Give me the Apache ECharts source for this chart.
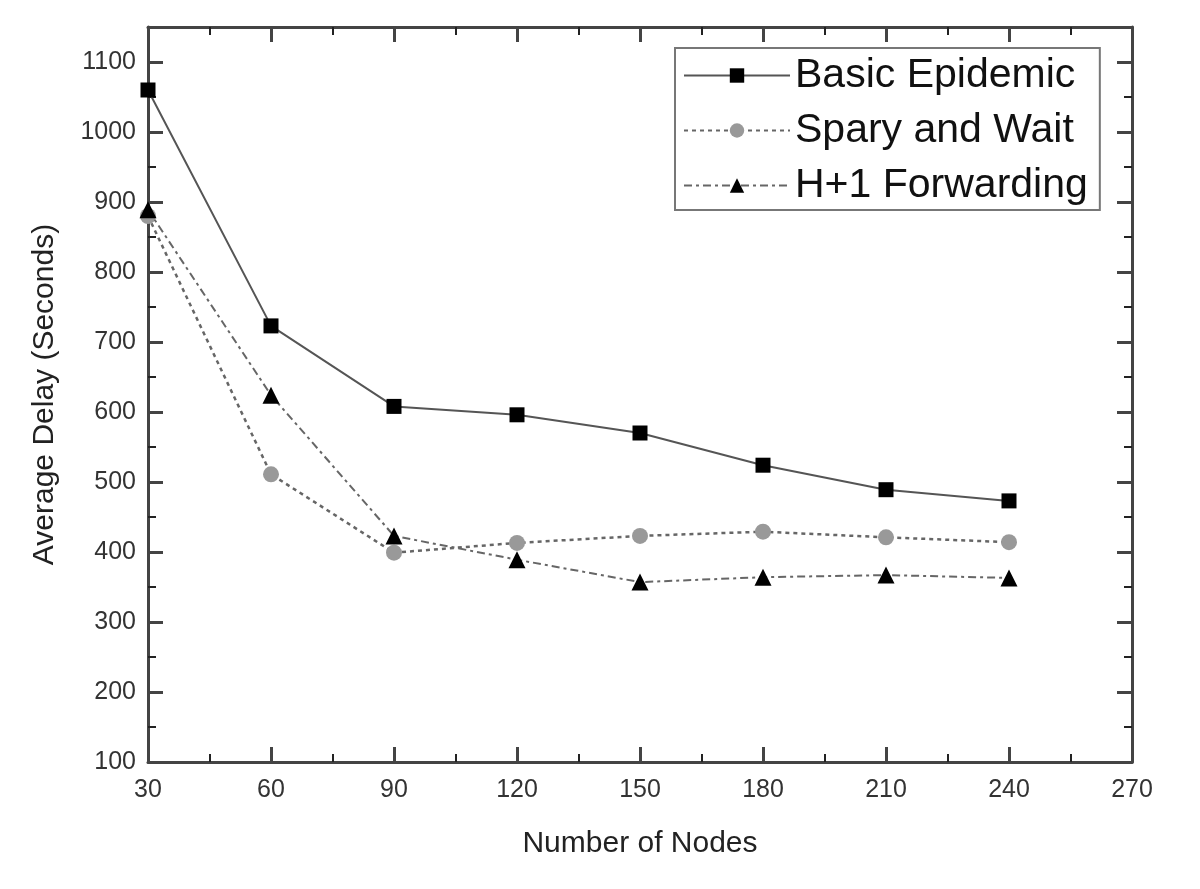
<!DOCTYPE html>
<html>
<head>
<meta charset="utf-8">
<script src="https://cdn.jsdelivr.net/npm/echarts@6/dist/echarts.min.js"></script>
<style>
  html, body { margin: 0; padding: 0; background: #fff; }
  #chart { width: 1200px; height: 889px; }
</style>
</head>
<body>
<div id="chart"></div>
<script>
// data
var nodes = [30, 60, 90, 120, 150, 180, 210, 240];
var basicEpidemic = [1060, 723, 608, 596, 570, 524, 489, 473];
var sprayWait = [880, 511, 399, 413, 423, 429, 421, 414];
var h1Forwarding = [889, 624, 423, 389, 357, 364, 367, 363];

function pairs(ys) {
  return nodes.map(function (x, i) { return [x, ys[i]]; });
}

var axisColor = '#444';
var labelStyle = { fontFamily: 'Liberation Sans, Arial', fontSize: 25, color: '#333' };

var chart = echarts.init(document.getElementById('chart'));

var option = {
  backgroundColor: '#fff',
  animation: false,
  grid: { left: 148, right: 68, top: 27, bottom: 127 },
  legend: {
    left: 675, top: 48,
    orient: 'vertical',
    itemWidth: 106, itemHeight: 18, itemGap: 14,
    padding: [7, 12, 4, 8],
    borderColor: '#777', borderWidth: 2,
    textStyle: { fontFamily: 'Liberation Sans, Arial', fontSize: 41, color: '#111' },
    data: ['Basic Epidemic', 'Spary and Wait', 'H+1 Forwarding']
  },
  xAxis: [
    {
      type: 'value', min: 30, max: 270, interval: 30,
      name: 'Number of Nodes', nameLocation: 'middle', nameGap: 67,
      nameTextStyle: { fontFamily: 'Liberation Sans, Arial', fontSize: 30, color: '#222' },
      axisLine: { lineStyle: { color: axisColor, width: 3 } },
      axisTick: { inside: true, length: 15, lineStyle: { color: axisColor, width: 3 } },
      minorTick: { show: true, splitNumber: 2, length: 8, lineStyle: { color: '#222', width: 2 } },
      axisLabel: Object.assign({ margin: 16 }, labelStyle),
      splitLine: { show: false }
    },
    {
      type: 'value', min: 30, max: 270, interval: 30, position: 'top',
      axisLine: { lineStyle: { color: axisColor, width: 3 } },
      axisTick: { inside: true, length: 15, lineStyle: { color: axisColor, width: 3 } },
      minorTick: { show: true, splitNumber: 2, length: 8, lineStyle: { color: '#222', width: 2 } },
      axisLabel: { show: false },
      splitLine: { show: false }
    }
  ],
  yAxis: [
    {
      type: 'value', min: 100, max: 1150, interval: 100,
      name: 'Average Delay (Seconds)', nameLocation: 'middle', nameGap: 88,
      nameTextStyle: { fontFamily: 'Liberation Sans, Arial', fontSize: 30, color: '#222' },
      axisLine: { lineStyle: { color: axisColor, width: 3 } },
      axisTick: { inside: true, length: 15, lineStyle: { color: axisColor, width: 3 } },
      minorTick: { show: true, splitNumber: 2, length: 8, lineStyle: { color: '#222', width: 2 } },
      axisLabel: Object.assign({
        margin: 12,
        formatter: function (v) { return v > 1100 ? '' : v; }
      }, labelStyle),
      splitLine: { show: false }
    },
    {
      type: 'value', min: 100, max: 1150, interval: 100, position: 'right',
      axisLine: { show: true, lineStyle: { color: axisColor, width: 3 } },
      axisTick: { show: true, inside: true, length: 15, lineStyle: { color: axisColor, width: 3 } },
      minorTick: { show: true, splitNumber: 2, length: 8, lineStyle: { color: '#222', width: 2 } },
      axisLabel: { show: false },
      splitLine: { show: false }
    }
  ],
  series: [
    {
      name: 'Basic Epidemic', type: 'line', data: pairs(basicEpidemic),
      symbol: 'rect', symbolSize: 15,
      itemStyle: { color: '#000' },
      lineStyle: { color: '#555', width: 2, type: 'solid' },
      z: 5
    },
    {
      name: 'Spary and Wait', type: 'line', data: pairs(sprayWait),
      symbol: 'circle', symbolSize: 16,
      itemStyle: { color: '#999' },
      lineStyle: { color: '#666', width: 2.5, type: [4, 4] },
      z: 3
    },
    {
      name: 'H+1 Forwarding', type: 'line', data: pairs(h1Forwarding),
      symbol: 'triangle', symbolSize: 17,
      itemStyle: { color: '#000' },
      lineStyle: { color: '#666', width: 2, type: [8, 4, 3, 4] },
      z: 4
    }
  ]
};

chart.setOption(option);
</script>
</body>
</html>
